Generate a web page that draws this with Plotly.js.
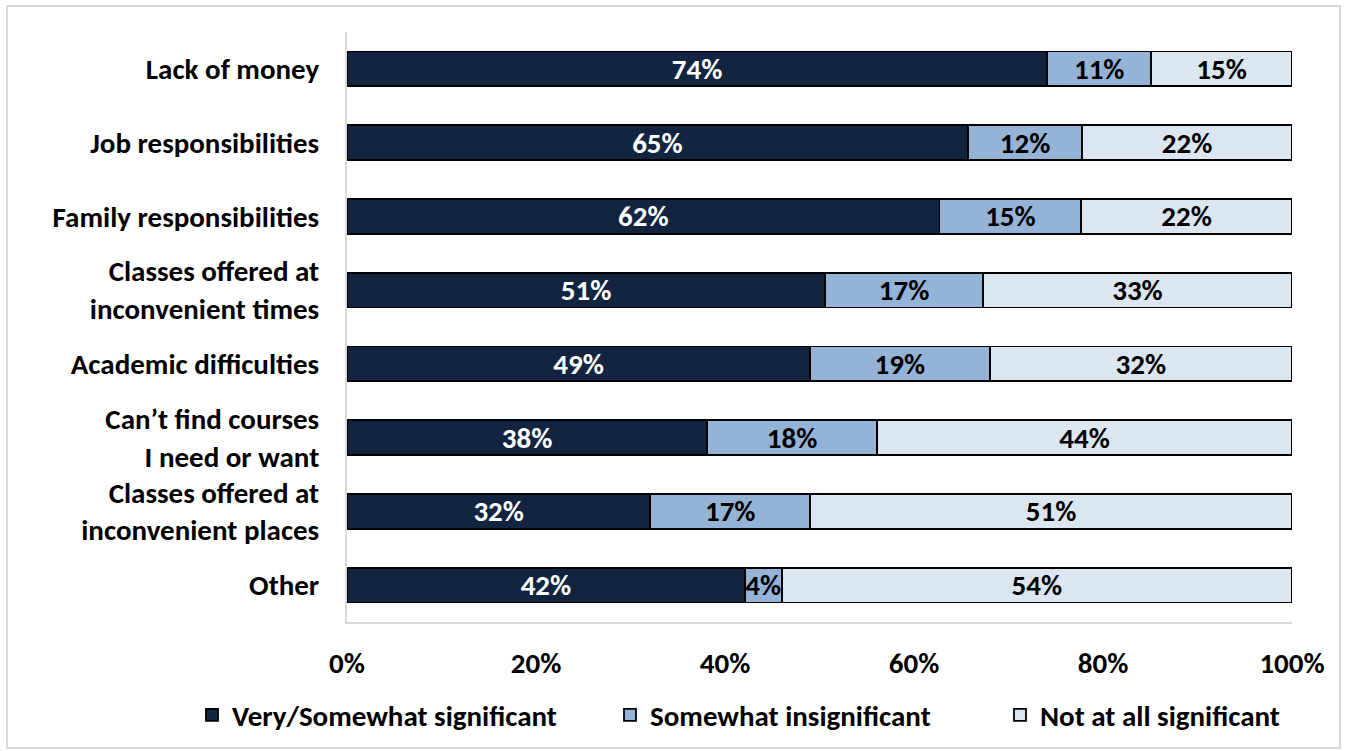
<!DOCTYPE html>
<html>
<head>
<meta charset="utf-8">
<script src="https://cdn.plot.ly/plotly-3.0.1.min.js"></script>
<style>
html,body{margin:0;padding:0;background:#fff;}
#wrap{position:relative;width:1347px;height:751px;}
#frame{position:absolute;left:6px;top:5px;width:1335px;height:744px;border:2px solid #d9d9d9;box-sizing:border-box;pointer-events:none;}
#chart{position:absolute;left:0;top:0;width:1347px;height:751px;}
</style>
</head>
<body>
<div id="wrap"><div id="chart"></div><div id="frame"></div></div>
<script>
const categories = [
  "Lack of money",
  "Job responsibilities",
  "Family responsibilities",
  "Classes offered at<br>inconvenient times",
  "Academic difficulties",
  "Can\u2019t find courses<br> I need or want",
  "Classes offered at<br>inconvenient places",
  "Other"
];
const verySignificant = [74.1, 65.7, 62.7, 50.6, 49.0, 38.1, 32.1, 42.1];
const somewhatInsignificant = [11.0, 12.1, 15.0, 16.7, 19.0, 18.0, 16.9, 3.9];
const notAtAll = [14.9, 22.2, 22.3, 32.7, 32.0, 43.9, 51.0, 54.0];
const veryLabels = ["74%", "65%", "62%", "51%", "49%", "38%", "32%", "42%"];
const somewhatLabels = ["11%", "12%", "15%", "17%", "19%", "18%", "17%", "4%"];
const notLabels = ["15%", "22%", "22%", "33%", "32%", "44%", "51%", "54%"];
const seriesNames = ["Very/Somewhat significant", "Somewhat insignificant", "Not at all significant"];
const xTickVals = [0, 20, 40, 60, 80, 100];
const xTickText = ["0%", "20%", "40%", "60%", "80%", "100%"];

const FONT = "Carlito, 'Liberation Sans Narrow', 'Open Sans', sans-serif";
const FS = 29;
function mk(name, vals, labels, color, textColor, leg) {
  return {
    type: "bar", orientation: "h", name: name, legend: leg,
    y: categories, x: vals, text: labels,
    textposition: "inside", insidetextanchor: "middle", constraintext: "none",
    textangle: 0,
    textfont: {family: FONT, size: FS, color: textColor, weight: "bold"},
    marker: {color: color, line: {color: "#000", width: 1.8}},
    hoverinfo: "skip", width: 0.47
  };
}
const data = [
  mk(seriesNames[0], verySignificant, veryLabels, "#12243f", "#ffffff", "legend"),
  mk(seriesNames[1], somewhatInsignificant, somewhatLabels, "#95b3d7", "#000000", "legend2"),
  mk(seriesNames[2], notAtAll, notLabels, "#dce6f1", "#000000", "legend3")
];
function leg(xpx) {
  return {
    orientation: "h", xref: "container", yref: "container",
    x: xpx / 1347, xanchor: "left", y: 0.048, yanchor: "middle",
    bgcolor: "rgba(0,0,0,0)",
    font: {family: FONT, size: FS, color: "#000", weight: "bold"},
    itemwidth: 30, itemclick: false, itemdoubleclick: false
  };
}
const layout = {
  width: 1347, height: 751,
  margin: {l: 347, r: 55, t: 32, b: 129},
  barmode: "stack",
  paper_bgcolor: "#fff", plot_bgcolor: "#fff",
  font: {family: FONT, size: FS, color: "#000", weight: "bold"},
  xaxis: {
    range: [0, 100], tickvals: xTickVals, ticktext: xTickText,
    showgrid: false, zeroline: false, showline: true, linecolor: "#d9d9d9", linewidth: 2,
    ticks: "", ticklabelstandoff: 14,
    tickfont: {family: FONT, size: FS, color: "#000", weight: "bold"}, fixedrange: true
  },
  yaxis: {
    autorange: "reversed", type: "category",
    showgrid: false, zeroline: false, showline: true, linecolor: "#d9d9d9", linewidth: 2,
    ticks: "", ticklabelstandoff: 20,
    tickfont: {family: FONT, size: FS, color: "#000", weight: "bold"}, fixedrange: true
  },
  showlegend: true,
  legend: leg(192),
  legend2: leg(610),
  legend3: leg(1000)
};
Plotly.newPlot("chart", data, layout, {displayModeBar: false, staticPlot: true});
</script>
</body>
</html>
